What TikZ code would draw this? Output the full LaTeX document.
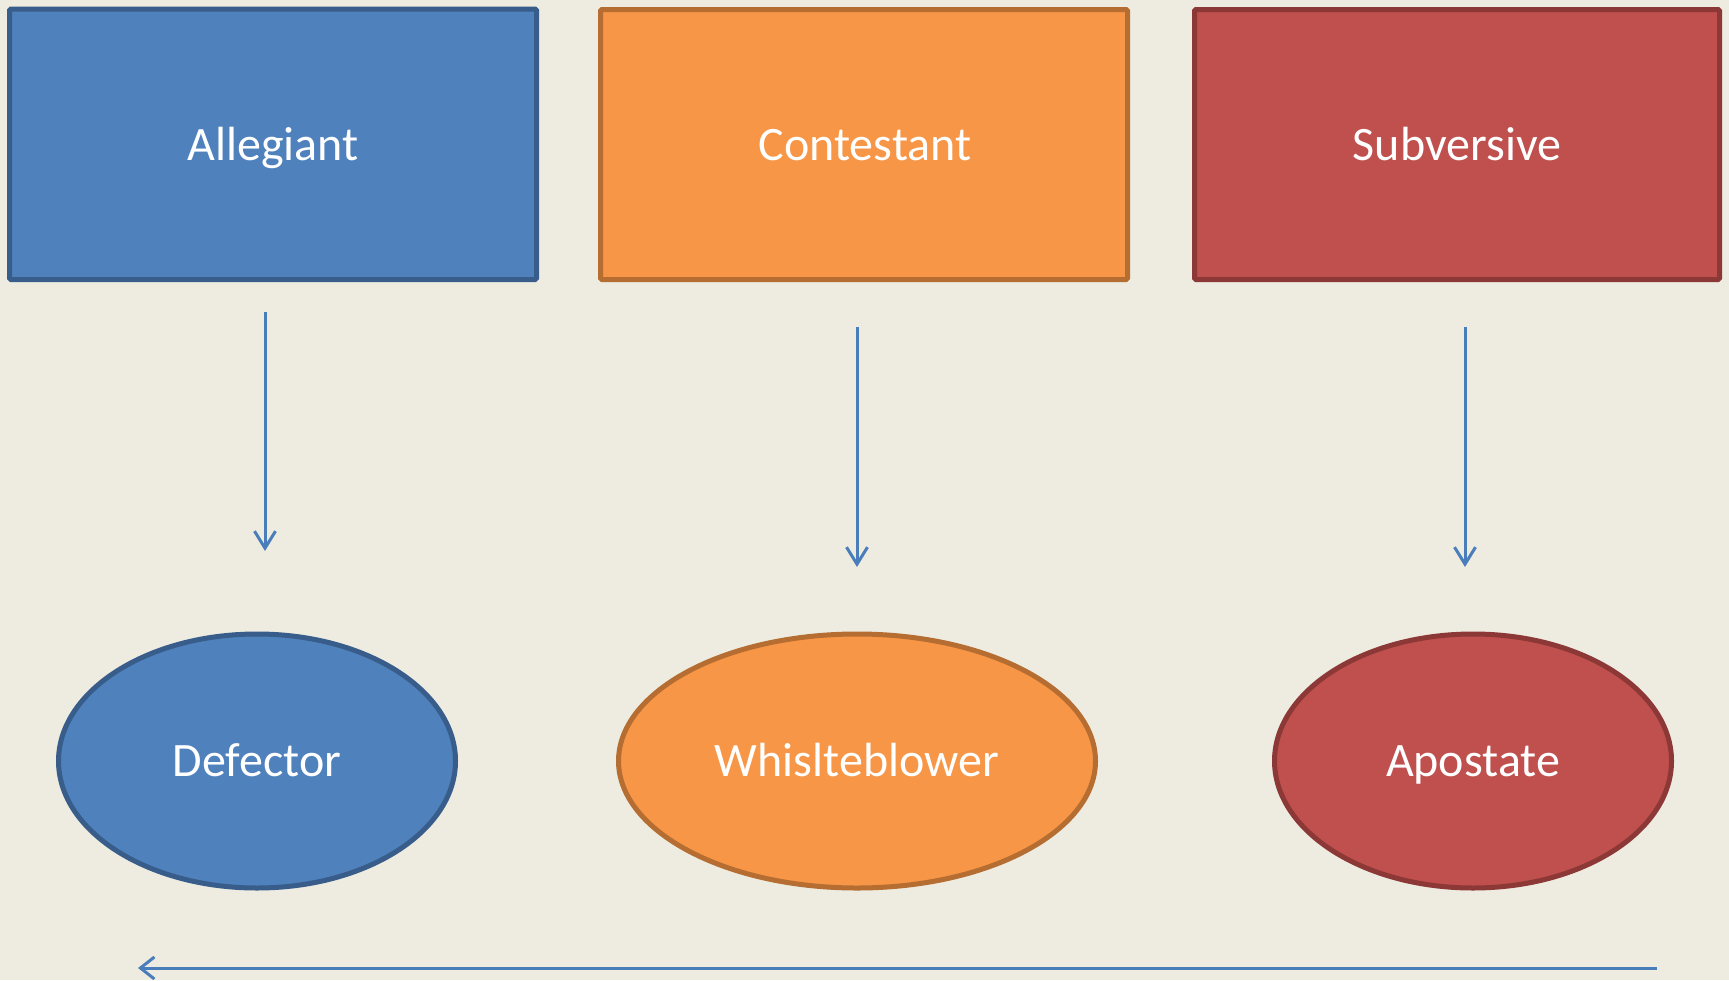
\documentclass[tikz,border=0pt]{standalone}
\usepackage{fontspec}
\setmainfont{Carlito}
\usetikzlibrary{shapes.geometric,arrows.meta}
\definecolor{bg}{HTML}{EEECE1}
\definecolor{bluefill}{HTML}{4F81BD}
\definecolor{blueline}{HTML}{385D8A}
\definecolor{orangefill}{HTML}{F79646}
\definecolor{orangeline}{HTML}{B66D31}
\definecolor{redfill}{HTML}{C0504D}
\definecolor{redline}{HTML}{8C3836}
\definecolor{arrowblue}{HTML}{4A7EBB}
\tikzset{
  lbl/.style={text=white, font=\fontsize{48}{54}\selectfont, text height=31pt, text depth=0pt, inner sep=0pt},
  box/.style={draw, line width=5pt, rounded corners=1.5pt},
  oval/.style={lbl, draw, ellipse, line width=5pt},
  conn/.style={draw=arrowblue, line width=3pt, -{Straight Barb[length=17pt,width=21pt,line width=3pt]}},
  longconn/.style={draw=arrowblue, line width=3pt, -{Straight Barb[length=14pt,width=22pt,line width=3pt]}}
}
\begin{document}
\begin{tikzpicture}[x=1pt,y=-1pt]
\fill[bg] (0,0) rectangle (1729,980);
\useasboundingbox (0,0) rectangle (1729,980);
% rectangles
\draw[box, fill=bluefill, draw=blueline] (9.5,9) rectangle (536.5,279.5);
\node[lbl] (alleg) at (273,145) {Allegiant};
\draw[box, fill=orangefill, draw=orangeline] (600.5,9.5) rectangle (1127.5,279.5);
\node[lbl] (contest) at (865,145) {Contestant};
\draw[box, fill=redfill, draw=redline] (1194.5,9.5) rectangle (1719.5,279.5);
\node[lbl] (subv) at (1457,145) {Subversive};
% ellipses
\node[oval, fill=bluefill, draw=blueline, minimum width=397pt, minimum height=254pt] (defect) at (257,761) {Defector};
\node[oval, fill=orangefill, draw=orangeline, minimum width=477pt, minimum height=254pt] (whistle) at (857,761) {Whislteblower};
\node[oval, fill=redfill, draw=redline, minimum width=397pt, minimum height=254pt] (apost) at (1473,761) {Apostate};
% connectors
\coordinate (a1) at (265,312);
\coordinate (a2) at (265,551);
\coordinate (b1) at (857,327);
\coordinate (b2) at (857,567);
\coordinate (c1) at (1465,327);
\coordinate (c2) at (1465,567);
\coordinate (d1) at (1657,968);
\coordinate (d2) at (138,968);
\draw[conn] (a1) -- (a2);
\draw[conn] (b1) -- (b2);
\draw[conn] (c1) -- (c2);
\draw[longconn] (d1) -- (d2);
\end{tikzpicture}
\end{document}
